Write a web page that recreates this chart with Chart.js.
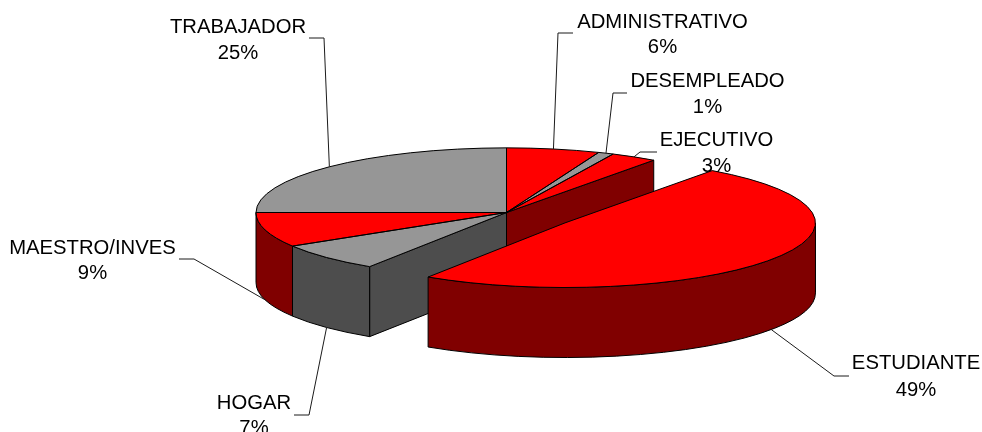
<!DOCTYPE html>
<html>
<head>
<meta charset="utf-8">
<style>html,body{margin:0;padding:0;background:#fff;overflow:hidden}canvas{display:block}</style>
<script src="https://cdn.jsdelivr.net/npm/chart.js@4/dist/chart.umd.js"></script>
</head>
<body>
<canvas id="c" width="982" height="432"></canvas>
<script>
const categories = ['ADMINISTRATIVO','DESEMPLEADO','EJECUTIVO','ESTUDIANTE','HOGAR','MAESTRO/INVES','TRABAJADOR'];
const shares = [6,1,3,49.2,7.1,8.7,25];
const topColors = ['#FF0000','#969696','#FF0000','#FF0000','#969696','#FF0000','#969696'];
const wallColors = ['#800000','#4D4D4D','#800000','#800000','#4D4D4D','#800000','#4D4D4D'];
const explodedIndex = 3;
const explodeDistance = 71;
const tilt = 0.258;
const depth = 70;
// label centre x, first baseline, second baseline; leader start and elbow
const labelLayout = [
  {x:662.5,y:[28,53],from:[573,33],elbow:[558,33]},
  {x:707.5,y:[87,113],from:[627,93],elbow:[613,93]},
  {x:716.5,y:[146,172],from:[657,152],elbow:[640,152]},
  {x:916,y:[369,396],from:[849,376],elbow:[834,376]},
  {x:254,y:[409,434],from:[294,415],elbow:[309,415]},
  {x:92.5,y:[254,279],from:[179,259],elbow:[194,259]},
  {x:238,y:[33,59],from:[309,38],elbow:[324,38]}
];

let pivot = {x:0,y:0};
const geom = el => {
  const cx = el.x, cy = pivot.y + (el.y - pivot.y) * tilt;
  const R = el.outerRadius;
  return {cx, cy, R, ry: R * tilt, s: el.startAngle, e: el.endAngle};
};
const rim = (g,a) => [g.cx + g.R*Math.cos(a), g.cy + g.ry*Math.sin(a)];

function drawOuterWall(ctx,g,color){
  const s = Math.max(g.s,0), e = Math.min(g.e,Math.PI);
  if (e <= s) return;
  ctx.beginPath();
  ctx.ellipse(g.cx,g.cy,g.R,g.ry,0,s,e,false);
  ctx.ellipse(g.cx,g.cy+depth,g.R,g.ry,0,e,s,true);
  ctx.closePath();
  ctx.fillStyle = color; ctx.fill(); ctx.stroke();
}
function drawCutWall(ctx,g,a,color){
  const p = rim(g,a);
  ctx.beginPath();
  ctx.moveTo(g.cx,g.cy);
  ctx.lineTo(p[0],p[1]);
  ctx.lineTo(p[0],p[1]+depth);
  ctx.lineTo(g.cx,g.cy+depth);
  ctx.closePath();
  ctx.fillStyle = color; ctx.fill(); ctx.stroke();
}

const pie3d = {
  id:'pie3d',
  afterDatasetUpdate(chart){
    const arcs = chart.getDatasetMeta(0).data;
    pivot = {x:arcs[0].x,y:arcs[0].y};
    const el = arcs[explodedIndex];
    const mid = (el.startAngle+el.endAngle)/2;
    el.x = pivot.x + Math.cos(mid)*explodeDistance;
    el.y = pivot.y + Math.sin(mid)*explodeDistance;
  },
  beforeDatasetsDraw(chart){
    const ctx = chart.ctx, arcs = chart.getDatasetMeta(0).data;
    ctx.save();
    ctx.strokeStyle = '#000'; ctx.lineWidth = 1; ctx.lineJoin='round';
    const ex = arcs[explodedIndex];
    const main = geom(arcs[0]);
    drawCutWall(ctx,main,ex.startAngle,wallColors[explodedIndex-1]);
    drawCutWall(ctx,main,ex.endAngle,wallColors[explodedIndex+1]);
    arcs.forEach((el,i)=>{ if(i!==explodedIndex) drawOuterWall(ctx,geom(el),wallColors[i]); });
    drawOuterWall(ctx,geom(ex),wallColors[explodedIndex]);
    ctx.restore();
    ctx.save();
    ctx.translate(pivot.x,pivot.y);
    ctx.scale(1,tilt);
    ctx.translate(-pivot.x,-pivot.y);
  },
  afterDatasetsDraw(chart){
    const ctx = chart.ctx, arcs = chart.getDatasetMeta(0).data;
    ctx.restore();
    ctx.save();
    ctx.strokeStyle = '#000'; ctx.lineWidth = 1; ctx.lineJoin='round';
    arcs.forEach(el=>{
      const g = geom(el);
      ctx.beginPath();
      ctx.moveTo(g.cx,g.cy);
      ctx.ellipse(g.cx,g.cy,g.R,g.ry,0,g.s,g.e,false);
      ctx.closePath();
      ctx.stroke();
    });
    // leader lines run from the rim at each slice's middle angle
    ctx.lineWidth = 1; ctx.strokeStyle = '#1a1a1a';
    arcs.forEach((el,i)=>{
      const g = geom(el), mid=(g.s+g.e)/2, p = rim(g,mid);
      const y = p[1] + (Math.sin(mid)>0 ? depth : 0);
      const L = labelLayout[i];
      ctx.beginPath();
      ctx.moveTo(L.from[0],L.from[1]);
      ctx.lineTo(L.elbow[0],L.elbow[1]);
      ctx.lineTo(p[0],y);
      ctx.stroke();
    });
    ctx.fillStyle = '#000';
    ctx.font = '20.25px "Liberation Sans", Arial, sans-serif';
    ctx.textAlign = 'center'; ctx.textBaseline='alphabetic';
    categories.forEach((c,i)=>{
      const L = labelLayout[i];
      ctx.fillText(c,L.x,L.y[0]);
      ctx.fillText(Math.round(shares[i])+'%',L.x,L.y[1]);
    });
    ctx.restore();
  }
};

new Chart(document.getElementById('c'),{
  type:'pie',
  data:{labels:categories,datasets:[{
    data:shares,
    backgroundColor:topColors,
    borderWidth:0,
    radius:250.5,
    clip:false,
    hoverOffset:0
  }]},
  options:{
    responsive:false,
    animation:false,
    layout:{padding:{left:31,right:0,top:0,bottom:7}},
    plugins:{legend:{display:false},tooltip:{enabled:false},title:{display:false}},
    events:[]
  },
  plugins:[pie3d]
});
</script>
</body>
</html>
